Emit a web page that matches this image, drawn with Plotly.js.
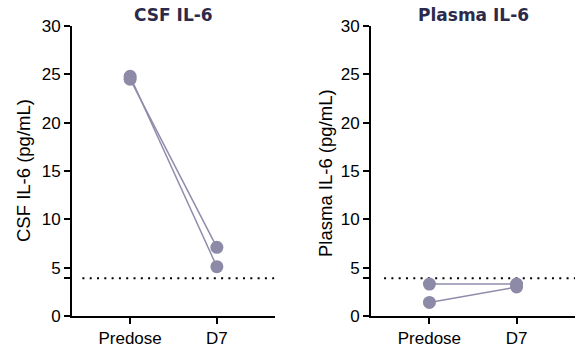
<!DOCTYPE html>
<html>
<head>
<meta charset="utf-8">
<script src="https://cdn.plot.ly/plotly-3.0.1.min.js"></script>
<style>html,body{margin:0;padding:0;background:#fff;}#chart{width:576px;height:349px;}</style>
</head>
<body>
<div id="chart"></div>
<script>
const categories = ["Predose", "D7"];
// CSF IL-6 (pg/mL), one array per subject
const csfSubject1 = [24.8, 5.1];
const csfSubject2 = [24.5, 7.1];
// Plasma IL-6 (pg/mL), one array per subject
const plasmaSubject1 = [3.3, 3.3];
const plasmaSubject2 = [1.4, 3.0];
const lloq = 3.9;
const yTicks = [0, 3.9, 5, 10, 15, 20, 25, 30];
const yTickText = ["0", "", "5", "10", "15", "20", "25", "30"];
const panelTitles = ["CSF IL-6", "Plasma IL-6"];
const yTitles = ["CSF IL-6 (pg/mL)", "Plasma IL-6 (pg/mL)"];

const catIndex = categories.map((c, i) => i);
const markerColor = "#8d8aa7";
const lineColor = "#8f8cab";
const font = {family: "Liberation Sans, Arial, sans-serif", size: 17, color: "#000"};
const titleFont = {family: "Liberation Sans, Arial, sans-serif", size: 18.5, color: "#000"};

function subjectTrace(vals, xa, ya) {
  return {
    x: catIndex, y: vals, xaxis: xa, yaxis: ya,
    type: "scatter", mode: "lines+markers",
    line: {color: lineColor, width: 1.5},
    marker: {color: markerColor, size: 13},
    showlegend: false, hoverinfo: "skip"
  };
}
function lloqTrace(xa, ya, x0, x1) {
  return {
    x: [x0, x1], y: [lloq, lloq], xaxis: xa, yaxis: ya,
    type: "scatter", mode: "lines",
    line: {color: "#000", width: 2, dash: "2px,5.3px"},
    showlegend: false, hoverinfo: "skip"
  };
}
const xr = [-0.67, 1.67];
const data = [
  lloqTrace("x", "y", -0.55, 1.66),
  lloqTrace("x2", "y2", -0.52, 1.67),
  subjectTrace(csfSubject1, "x", "y"),
  subjectTrace(csfSubject2, "x", "y"),
  subjectTrace(plasmaSubject1, "x2", "y2"),
  subjectTrace(plasmaSubject2, "x2", "y2")
];

const yDom = [33/349, 323/349];
function xAxis(dom) {
  return {
    domain: dom, range: xr, type: "linear",
    tickmode: "array", tickvals: catIndex, ticktext: categories,
    showline: true, linecolor: "#000", linewidth: 2,
    ticks: "outside", ticklen: 6, tickwidth: 2, tickcolor: "#000",
    showgrid: false, zeroline: false, tickfont: font, fixedrange: true
  };
}
function yAxis(anchor) {
  return {
    domain: yDom, range: [0, 30], anchor: anchor,
    tickmode: "array", tickvals: yTicks, ticktext: yTickText,
    showline: true, linecolor: "#000", linewidth: 2,
    ticks: "outside", ticklen: 6, tickwidth: 2, tickcolor: "#000",
    showgrid: false, zeroline: false, tickfont: font, fixedrange: true
  };
}
const dom1 = [72/576, 275/576];
const dom2 = [371/576, 575/576];
const panelFont = {family: "DejaVu Sans, Verdana, sans-serif", size: 17, color: "#2c2a4a"};
const layout = {
  width: 576, height: 349,
  margin: {l: 0, r: 0, t: 0, b: 0},
  paper_bgcolor: "#fff", plot_bgcolor: "#fff",
  xaxis: Object.assign(xAxis(dom1), {anchor: "y"}),
  yaxis: yAxis("x"),
  xaxis2: Object.assign(xAxis(dom2), {anchor: "y2"}),
  yaxis2: yAxis("x2"),
  annotations: [
    {text: "<b>" + panelTitles[0] + "</b>", xref: "paper", yref: "paper",
     x: (dom1[0]+dom1[1])/2, y: 1 - 15/349, xanchor: "center", yanchor: "middle",
     showarrow: false, font: panelFont},
    {text: "<b>" + panelTitles[1] + "</b>", xref: "paper", yref: "paper",
     x: (dom2[0]+dom2[1])/2, y: 1 - 15/349, xanchor: "center", yanchor: "middle",
     showarrow: false, font: panelFont},
    {text: yTitles[0], xref: "paper", yref: "paper", x: 23/576, y: 1 - 171/349,
     xanchor: "center", yanchor: "middle", textangle: -90, showarrow: false, font: titleFont},
    {text: yTitles[1], xref: "paper", yref: "paper", x: 325/576, y: 1 - 173/349,
     xanchor: "center", yanchor: "middle", textangle: -90, showarrow: false, font: titleFont}
  ]
};
Plotly.newPlot("chart", data, layout, {staticPlot: true, displayModeBar: false});
</script>
</body>
</html>
